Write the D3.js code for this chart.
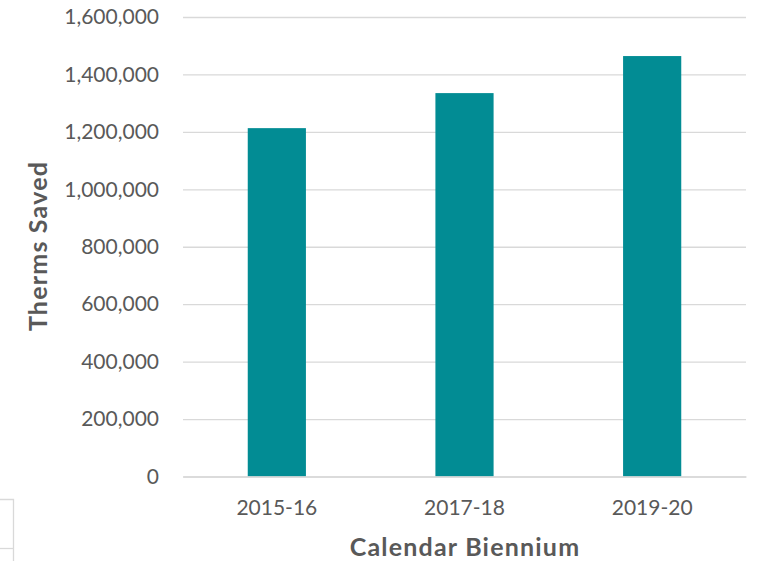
<!DOCTYPE html>
<html>
<head>
<meta charset="utf-8">
<script src="https://cdn.jsdelivr.net/npm/d3@7"></script>
<style>
  html, body { margin: 0; padding: 0; background: #fff; }
  svg { display: block; }
</style>
</head>
<body>
<div id="chart"></div>
<script>
// Therms saved per calendar biennium
const categories = ["2015-16", "2017-18", "2019-20"];
const thermsSaved = [1213000, 1335000, 1464000];
const yTicks = [0, 200000, 400000, 600000, 800000, 1000000, 1200000, 1400000, 1600000];

const width = 758, height = 561;
const margin = { top: 17, right: 12, bottom: 85, left: 183 };
const font = "Lato, 'Open Sans', sans-serif";

const svg = d3.select("#chart").append("svg")
  .attr("width", width)
  .attr("height", height);

const x = d3.scaleBand()
  .domain(categories)
  .range([margin.left, width - margin.right])
  .paddingInner(0.69)
  .paddingOuter(0.345);

const y = d3.scaleLinear()
  .domain([0, 1600000])
  .range([height - margin.bottom + 0.5, margin.top]);

// Horizontal gridlines with value labels
const yAxis = d3.axisLeft(y)
  .tickValues(yTicks)
  .tickFormat(d3.format(","))
  .tickSize(-(width - margin.left - margin.right))
  .tickPadding(24);

const gy = svg.append("g")
  .attr("transform", `translate(${margin.left},0)`)
  .call(yAxis);
gy.select(".domain").remove();
gy.selectAll(".tick line").attr("stroke", "#d9d9d9").attr("stroke-width", 1.3);
gy.selectAll(".tick text")
  .attr("fill", "#595959")
  .style("font-family", font)
  .style("font-size", "21px");

// Bars
svg.append("g")
  .selectAll("rect")
  .data(categories.map((c, i) => ({ c, v: thermsSaved[i] })))
  .join("rect")
  .attr("x", d => x(d.c))
  .attr("width", x.bandwidth())
  .attr("y", d => y(d.v))
  .attr("height", d => y(0) - y(d.v))
  .attr("fill", "#028c94");

// Category axis
const xAxis = d3.axisBottom(x).tickSize(0).tickPadding(24);
const gx = svg.append("g")
  .attr("transform", `translate(0,${y(0)})`)
  .call(xAxis);
gx.select(".domain").attr("stroke", "#d9d9d9").attr("stroke-width", 1.3);
gx.selectAll(".tick text")
  .attr("fill", "#595959")
  .style("font-family", font)
  .style("font-size", "21px");

// Axis titles
svg.append("text")
  .attr("x", 465)
  .attr("y", 556)
  .attr("text-anchor", "middle")
  .attr("fill", "#595959")
  .style("font-family", font)
  .style("font-weight", "bold")
  .style("font-size", "25px")
  .style("letter-spacing", "1.2px")
  .text("Calendar Biennium");

svg.append("text")
  .attr("transform", `translate(47,246) rotate(-90)`)
  .attr("text-anchor", "middle")
  .attr("fill", "#595959")
  .style("font-family", font)
  .style("font-weight", "bold")
  .style("font-size", "25px")
  .style("letter-spacing", "1.2px")
  .text("Therms Saved");

// Cell border at the lower left of the sheet
const border = svg.append("g").attr("stroke", "#d9d9d9").attr("stroke-width", 1.3).attr("fill", "none");
border.append("path").attr("d", "M0,499.5H13.5V561");
border.append("path").attr("d", "M0,548.5H13.5");
</script>
</body>
</html>
